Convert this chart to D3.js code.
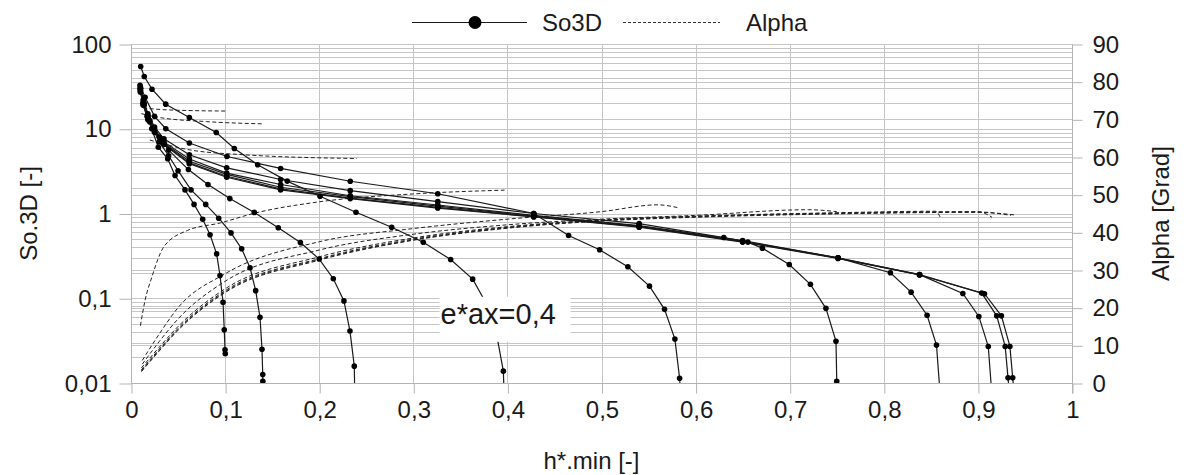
<!DOCTYPE html>
<html>
<head>
<meta charset="utf-8">
<script src="https://cdn.jsdelivr.net/npm/d3@7"></script>
<style>
  html, body { margin: 0; padding: 0; background: #fff; }
  svg { display: block; font-family: "Liberation Sans", Arial, sans-serif; }
</style>
</head>
<body>
<svg id="chart" width="1189" height="475"></svg>
<script>
// ---- So3D curves (h*.min, So.3D) ----
const so3dA = [[0.010,28],[0.013,20],[0.017,14],[0.022,10],[0.029,6.05],[0.039,4.42],[0.0468,2.81],[0.0574,1.9],[0.067,1.28],[0.0762,0.857],[0.084,0.561],[0.091,0.334],[0.0946,0.185],[0.0978,0.0897],[0.0991,0.0424],[0.0999,0.0246],[0.1002,0.0221]];
const so3dB = [[0.010,30],[0.014,19],[0.020,12],[0.030,7],[0.040,4.8],[0.050,3.2],[0.0638,1.9],[0.0794,1.28],[0.0932,0.88],[0.1063,0.59],[0.1176,0.383],[0.1265,0.229],[0.1325,0.123],[0.1371,0.0596],[0.1392,0.025],[0.140,0.0126],[0.1401,0.0105]];
const so3dC = [[0.010,30],[0.014,20],[0.020,12.5],[0.030,8],[0.040,5.6],[0.061,3.3],[0.0818,2.2],[0.105,1.5],[0.131,1.03],[0.1565,0.68],[0.180,0.455],[0.200,0.29],[0.215,0.17],[0.2263,0.093],[0.2327,0.041],[0.2373,0.0158],[0.238,0.005]];
const so3dJ = [[0.0103,54.3],[0.0141,41.4],[0.0223,29.3],[0.0369,19.5],[0.062,13.6],[0.0906,9.03],[0.1098,5.85],[0.1346,3.76],[0.166,2.41],[0.2009,1.6],[0.2391,1.036],[0.277,0.689],[0.3106,0.458],[0.3397,0.286],[0.3631,0.168],[0.378,0.085],[0.389,0.035],[0.3957,0.0138],[0.397,0.005]];
const so3dD = [[0.0096,32.5],[0.015,23.5],[0.025,14],[0.037,10],[0.062,6.8],[0.102,4.7],[0.159,3.4],[0.233,2.4],[0.326,1.71],[0.428,1.0],[0.465,0.55],[0.498,0.373],[0.528,0.235],[0.551,0.139],[0.567,0.074],[0.578,0.033],[0.583,0.0114],[0.585,0.005]];
const so3dE = [[0.010,31],[0.013,22],[0.018,15],[0.025,10.5],[0.035,7.6],[0.062,4.93],[0.1017,3.46],[0.159,2.52],[0.233,1.86],[0.326,1.38],[0.428,1.0],[0.54,0.76],[0.630,0.52],[0.6556,0.46],[0.671,0.39],[0.6995,0.25],[0.722,0.146],[0.7385,0.076],[0.7492,0.031],[0.750,0.0105],[0.751,0.005]];
const so3dF = [[0.010,30],[0.013,21],[0.018,14],[0.025,10],[0.035,7],[0.062,4.4],[0.1017,3.0],[0.159,2.2],[0.233,1.62],[0.326,1.26],[0.428,0.95],[0.540,0.72],[0.650,0.48],[0.7514,0.30],[0.807,0.20],[0.829,0.118],[0.846,0.063],[0.856,0.028],[0.861,0.005]];
const so3dG = [[0.010,29],[0.013,20],[0.018,13.5],[0.025,9.6],[0.035,6.8],[0.062,4.14],[0.1017,2.89],[0.159,2.04],[0.233,1.58],[0.326,1.22],[0.428,0.93],[0.540,0.71],[0.650,0.47],[0.7514,0.30],[0.838,0.19],[0.884,0.114],[0.901,0.061],[0.911,0.027],[0.916,0.005]];
const so3dH = [[0.010,28],[0.013,19.5],[0.018,13],[0.025,9.3],[0.035,6.6],[0.062,3.95],[0.1017,2.75],[0.159,1.95],[0.233,1.52],[0.326,1.18],[0.428,0.92],[0.540,0.70],[0.650,0.465],[0.7514,0.298],[0.838,0.19],[0.904,0.115],[0.920,0.062],[0.929,0.027],[0.932,0.0115],[0.935,0.005]];
const so3dI = [[0.010,27],[0.013,19],[0.018,12.8],[0.025,9.1],[0.035,6.5],[0.062,3.86],[0.1017,2.68],[0.159,1.9],[0.233,1.5],[0.326,1.16],[0.428,0.91],[0.540,0.69],[0.650,0.46],[0.7514,0.295],[0.838,0.188],[0.907,0.113],[0.925,0.062],[0.934,0.027],[0.937,0.0115],[0.940,0.005]];

// ---- Alpha curves (h*.min, Grad) ----
const alphaA = [[0.013,73],[0.04,72.5],[0.1,72.2]];
const alphaB = [[0.011,71.5],[0.03,70.5],[0.08,69.4],[0.14,68.8]];
const alphaC = [[0.02,64.5],[0.06,62],[0.12,60.6],[0.24,59.6]];
const alphaJ = [[0.01,15.2],[0.015,22],[0.022,28],[0.035,36.2],[0.06,40.5],[0.095,42.5],[0.13,45],[0.2,48.1],[0.3,50.2],[0.397,51.2]];
const alphaD = [[0.012,6],[0.03,13],[0.05,20],[0.1,29],[0.2,37.5],[0.3,41],[0.4,43.5],[0.5,45.5],[0.56,47.3],[0.582,46.5]];
const alphaE = [[0.012,5],[0.03,11],[0.05,17],[0.1,27],[0.2,35.3],[0.3,39.5],[0.4,42],[0.5,43.5],[0.6,44.5],[0.72,46],[0.75,45.5]];
const alphaF = [[0.011,4],[0.03,9.5],[0.05,15],[0.1,25],[0.2,33.5],[0.3,38.5],[0.4,41.5],[0.5,43.3],[0.6,44.3],[0.75,45.2],[0.855,45.6],[0.86,44]];
const alphaG = [[0.011,3.5],[0.03,9],[0.05,14.5],[0.1,24.5],[0.2,33],[0.3,38.2],[0.4,41.3],[0.5,43.2],[0.6,44.2],[0.75,45.1],[0.9,45.5],[0.915,44]];
const alphaH = [[0.011,3.2],[0.03,8.7],[0.05,14.2],[0.1,24.2],[0.2,32.8],[0.3,38],[0.4,41.2],[0.5,43.1],[0.6,44.1],[0.75,45],[0.9,45.4],[0.935,44.5]];
const alphaI = [[0.011,3],[0.03,8.5],[0.05,14],[0.1,24],[0.2,32.6],[0.3,37.9],[0.4,41.1],[0.5,43],[0.6,44],[0.75,44.9],[0.9,45.3],[0.94,44.6]];

const so3dSeries = [so3dA, so3dB, so3dC, so3dJ, so3dD, so3dE, so3dF, so3dG, so3dH, so3dI];
const alphaSeries = [alphaA, alphaB, alphaC, alphaJ, alphaD, alphaE, alphaF, alphaG, alphaH, alphaI];

// ---- axes ----
const xTicks = [0,0.1,0.2,0.3,0.4,0.5,0.6,0.7,0.8,0.9,1];
const yTicks = [0.01,0.1,1,10,100];
const yTickLabels = ["0,01","0,1","1","10","100"];
const alphaTicks = [0,10,20,30,40,50,60,70,80,90];
const legendLabels = ["So3D","Alpha"];
const noteText = "e*ax=0,4";

const svg = d3.select("#chart");
const m = {left:131, right:1072, top:44, bottom:383};
const FS = 24;
const textColor = "#1a1a1a";

const x = d3.scaleLinear().domain([0,1]).range([m.left, m.right]);
const y = d3.scaleLog().domain([0.01,100]).range([m.bottom, m.top]);
const y2 = d3.scaleLinear().domain([0,90]).range([m.bottom, m.top]);

const fmt = d => String(d).replace(".", ",");
const gridColor = "#c6c6c6";

// grid: log minors + decades on the left scale, every 10 Grad on the right scale
const grid = svg.append("g");
const logLines = [];
for (let e = -2; e < 2; e++) for (let k = 1; k <= 9; k++) logLines.push(k * Math.pow(10, e));
logLines.push(100);
grid.selectAll(".gl").data(logLines).join("line")
  .attr("x1", m.left).attr("x2", m.right)
  .attr("y1", d => Math.round(y(d)) + 0.5).attr("y2", d => Math.round(y(d)) + 0.5)
  .attr("stroke", gridColor).attr("stroke-width", 1);
grid.selectAll(".ga").data(alphaTicks).join("line")
  .attr("x1", m.left).attr("x2", m.right)
  .attr("y1", d => Math.round(y2(d)) + 0.5).attr("y2", d => Math.round(y2(d)) + 0.5)
  .attr("stroke", gridColor).attr("stroke-width", 1);
grid.selectAll(".gx").data(xTicks).join("line")
  .attr("x1", d => Math.round(x(d)) + 0.5).attr("x2", d => Math.round(x(d)) + 0.5)
  .attr("y1", m.top).attr("y2", m.bottom)
  .attr("stroke", gridColor).attr("stroke-width", 1);

// axes
const axisColor = "#b3b3b3";
const xAxis = svg.append("g").attr("transform", `translate(0.5,${m.bottom + 0.5})`)
  .call(d3.axisBottom(x).tickValues(xTicks).tickFormat(fmt).tickSize(10).tickPadding(7));
const yAxis = svg.append("g").attr("transform", `translate(${m.left + 0.5},0.5)`)
  .call(d3.axisLeft(y).tickValues(yTicks).tickFormat((d,i) => yTickLabels[i]).tickSize(12).tickPadding(8));
const y2Axis = svg.append("g").attr("transform", `translate(${m.right + 0.5},0.5)`)
  .call(d3.axisRight(y2).tickValues(alphaTicks).tickFormat(d => d).tickSize(10).tickPadding(10));
[xAxis, yAxis, y2Axis].forEach(g => {
  g.select(".domain").attr("stroke", axisColor);
  g.selectAll(".tick line").attr("stroke", axisColor);
  g.selectAll("text").attr("font-size", FS).attr("fill", textColor)
    .attr("font-family", "'Liberation Sans', Arial, sans-serif");
});
yAxis.select(".domain").attr("d", `M0,${m.top}V${m.bottom}`);
y2Axis.select(".domain").attr("d", `M0,${m.top}V${m.bottom + 10}`);
xAxis.select(".domain").attr("d", `M${m.left},0H${m.right}`);

// axis titles
svg.append("text").attr("transform", `translate(28,${(m.top+m.bottom)/2}) rotate(-90)`)
  .attr("text-anchor","middle").attr("dominant-baseline","central")
  .attr("font-size",FS).attr("fill",textColor).text("So.3D [-]");
svg.append("text").attr("transform", `translate(1160,${(m.top+m.bottom)/2}) rotate(-90)`)
  .attr("text-anchor","middle").attr("dominant-baseline","central")
  .attr("font-size",FS).attr("fill",textColor).text("Alpha [Grad]");
svg.append("text").attr("x", (m.left+m.right)/2 - 10).attr("y", 469)
  .attr("text-anchor","middle").attr("font-size",FS).attr("fill",textColor).text("h*.min [-]");

// plot clip
svg.append("clipPath").attr("id","plotClip").append("rect")
  .attr("x", m.left).attr("y", m.top).attr("width", m.right - m.left).attr("height", m.bottom - m.top);
const plot = svg.append("g").attr("clip-path","url(#plotClip)");

const soLine = d3.line().x(d => x(d[0])).y(d => y(d[1]));
const alLine = d3.line().curve(d3.curveMonotoneX).x(d => x(d[0])).y(d => y2(d[1]));

plot.selectAll(".al").data(alphaSeries).join("path")
  .attr("d", alLine).attr("fill","none").attr("stroke","#222")
  .attr("stroke-width",1).attr("stroke-dasharray","4,2.5");

plot.selectAll(".so").data(so3dSeries).join("path")
  .attr("d", soLine).attr("fill","none").attr("stroke","#1a1a1a").attr("stroke-width",1.2);

plot.selectAll(".pts").data(so3dSeries).join("g")
  .selectAll("circle").data(d => d.filter(p => p[1] >= 0.01)).join("circle")
  .attr("cx", d => x(d[0])).attr("cy", d => y(d[1])).attr("r", 2.8).attr("fill","#000");

// annotation label with white box
const noteX = x(0.329), noteY = y(0.05);
svg.append("rect").attr("x", noteX - 1).attr("y", noteY - 27).attr("width", 131).attr("height", 45).attr("fill","#fff");
svg.append("text").attr("x", noteX).attr("y", noteY).attr("font-size", 29).attr("fill",textColor).text(noteText);

// legend
const lg = svg.append("g");
lg.append("line").attr("x1",412).attr("x2",527).attr("y1",22.5).attr("y2",22.5).attr("stroke","#1a1a1a").attr("stroke-width",1.2);
lg.append("circle").attr("cx",475).attr("cy",22.5).attr("r",6.5).attr("fill","#000");
lg.append("text").attr("x",542).attr("y",31).attr("font-size",FS).attr("fill",textColor).text(legendLabels[0]);
lg.append("line").attr("x1",623).attr("x2",720).attr("y1",22.5).attr("y2",22.5).attr("stroke","#333").attr("stroke-width",1).attr("stroke-dasharray","3,2");
lg.append("text").attr("x",746).attr("y",31).attr("font-size",FS).attr("fill",textColor).text(legendLabels[1]);
</script>
</body>
</html>
